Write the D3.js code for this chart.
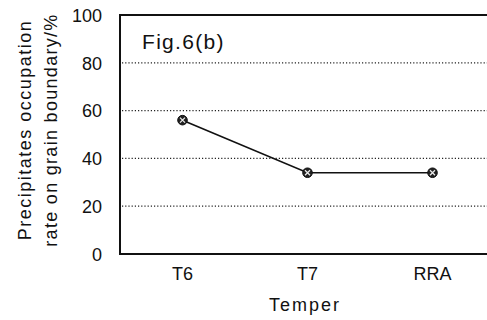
<!DOCTYPE html>
<html>
<head>
<meta charset="utf-8">
<script src="https://cdn.jsdelivr.net/npm/d3@7"></script>
<style>
  body { margin: 0; background: #fff; }
  text { font-family: "Liberation Sans", Arial, sans-serif; fill: #111; }
</style>
</head>
<body>
<div id="chart"></div>
<script>
const categories = ['T6', 'T7', 'RRA'];
const occupation = [56, 34, 34];
const yTicks = [0, 20, 40, 60, 80, 100];

const W = 487, H = 320;
const margin = {top: 15, right: -8, bottom: 66, left: 120};

const svg = d3.select('#chart').append('svg')
  .attr('width', W).attr('height', H);

const x = d3.scaleBand()
  .domain(categories)
  .range([margin.left, W - margin.right]);

const y = d3.scaleLinear()
  .domain([0, 100])
  .range([H - margin.bottom, margin.top]);

// dotted gridlines
svg.append('g')
  .selectAll('line')
  .data(yTicks.filter(d => d > 0 && d < 100))
  .enter().append('line')
    .attr('x1', margin.left + 2)
    .attr('x2', W)
    .attr('y1', d => y(d))
    .attr('y2', d => y(d))
    .attr('stroke', '#222')
    .attr('stroke-width', 1.2)
    .attr('stroke-dasharray', '1.2,2');

// frame: top, left, bottom
svg.append('path')
  .attr('d', `M${W},${y(100)} L${margin.left},${y(100)} L${margin.left},${y(0)} L${W},${y(0)}`)
  .attr('fill', 'none')
  .attr('stroke', '#111')
  .attr('stroke-width', 2);

// y axis labels
const yAxis = d3.axisLeft(y).tickValues(yTicks).tickSize(0).tickPadding(18);
svg.append('g')
  .attr('transform', `translate(${margin.left},0)`)
  .call(yAxis)
  .call(g => g.select('.domain').remove())
  .selectAll('text')
    .style('font-size', '18px')
    .attr('dy', '0.35em');

// x axis labels
const xAxis = d3.axisBottom(x).tickSize(0).tickPadding(13);
svg.append('g')
  .attr('transform', `translate(0,${y(0)})`)
  .call(xAxis)
  .call(g => g.select('.domain').remove())
  .selectAll('text')
    .style('font-size', '18px');

// axis titles
svg.append('text')
  .attr('x', 305).attr('y', 311)
  .attr('text-anchor', 'middle')
  .style('font-size', '18px')
  .style('letter-spacing', '2px')
  .text('Temper');

const yTitle = svg.append('g')
  .attr('transform', 'translate(0,130) rotate(-90)');
yTitle.append('text')
  .attr('x', 0).attr('y', 31)
  .attr('text-anchor', 'middle')
  .style('font-size', '18px')
  .style('letter-spacing', '1.5px')
  .text('Precipitates occupation');
yTitle.append('text')
  .attr('x', 0).attr('y', 57)
  .attr('text-anchor', 'middle')
  .style('font-size', '18px')
  .style('letter-spacing', '1.3px')
  .text('rate on grain boundary/%');

// figure label
svg.append('text')
  .attr('x', 142).attr('y', 49)
  .style('font-size', '21px')
  .style('letter-spacing', '1.3px')
  .text('Fig.6(b)');

// line
const pts = categories.map((c, i) => ({c, v: occupation[i]}));
const line = d3.line()
  .x(d => x(d.c) + x.bandwidth() / 2)
  .y(d => y(d.v));
svg.append('path')
  .datum(pts)
  .attr('d', line)
  .attr('fill', 'none')
  .attr('stroke', '#111')
  .attr('stroke-width', 1.6);

// markers
const m = svg.append('g').selectAll('g')
  .data(pts)
  .enter().append('g')
    .attr('transform', d => `translate(${x(d.c) + x.bandwidth() / 2},${y(d.v)})`);
m.append('circle')
  .attr('r', 4.8)
  .attr('fill', '#222')
  .attr('stroke', '#111')
  .attr('stroke-width', 1);
m.append('path')
  .attr('d', 'M-2.5,-2.5L2.5,2.5M-2.5,2.5L2.5,-2.5')
  .attr('stroke', '#eee')
  .attr('stroke-width', 1.2);
</script>
</body>
</html>
